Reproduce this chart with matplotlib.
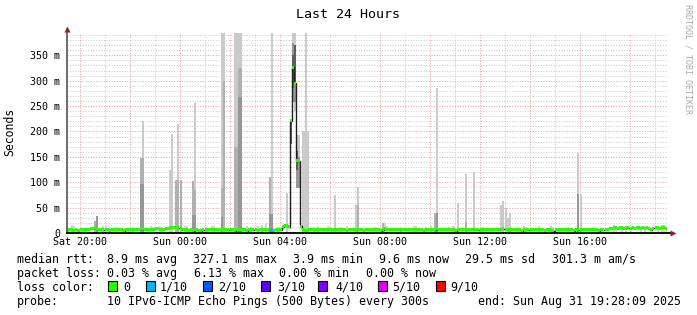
"""SmokePing style 'Last 24 Hours' latency graph (rrdtool look)."""
import datetime as dt
import matplotlib
matplotlib.use("Agg")
import matplotlib.pyplot as plt
from matplotlib.patches import Rectangle
from matplotlib.lines import Line2D

W, H = 697, 315
MONO = "DejaVu Sans Mono"

END = dt.datetime(2025, 8, 31, 19, 28, 9)
START = END - dt.timedelta(hours=24)
STEP_H = 5 / 60          # one sample every 300 s
YMAX = 394.0             # ms

# median rtt per 5-min sample (ms), one row per hour
median_ms = [
    6.5, 6.0, 6.0, 5.5, 6.0, 5.5, 6.0, 6.0, 6.5, 7.0, 7.0, 8.0,
    9.0, 10.0, 8.5, 7.0, 6.5, 6.0, 7.0, 6.5, 5.5, 6.0, 6.5, 7.5,
    7.0, 7.5, 6.5, 4.0, 6.5, 6.5, 6.0, 6.5, 7.0, 7.5, 7.5, 8.0,
    8.0, 7.0, 6.5, 6.5, 7.0, 7.5, 8.0, 8.0, 7.0, 7.0, 7.5, 8.0,
    9.0, 10.0, 11.0, 11.5, 11.0, 10.0, 9.0, 7.0, 6.0, 6.0, 5.5, 6.0,
    4.0, 6.5, 6.0, 5.5, 4.0, 6.0, 6.5, 7.0, 7.5, 7.0, 6.5, 6.0,
    6.0, 6.5, 7.0, 7.0, 6.5, 6.0, 6.5, 6.5, 4.5, 6.0, 6.5, 6.5,
    6.0, 6.5, 4.0, 6.0, 6.5, 6.0, 6.0, 5.5, 6.0, 6.5, 7.0, 7.0,
    6.5, 4.5, 4.5, 5.0, 6.0, 6.5, 6.5, 12.0, 14.0, 14.0, 12.0, 221.0,
    327.0, 295.0, 142.0, 142.0, 13.0, 6.0, 5.5, 6.0, 6.5, 7.0, 6.5, 6.0,
    6.5, 7.0, 6.5, 6.0, 6.5, 7.0, 6.5, 6.0, 6.0, 6.5, 6.0, 6.5,
    6.5, 6.0, 5.5, 6.0, 6.5, 6.0, 6.5, 7.0, 6.5, 6.0, 5.0, 6.5,
    6.5, 6.0, 6.5, 7.0, 6.5, 6.0, 4.0, 6.5, 8.0, 7.0, 6.5, 6.0,
    6.5, 6.0, 6.5, 6.0, 6.5, 7.0, 6.5, 6.0, 6.5, 6.0, 6.5, 6.5,
    6.0, 6.5, 6.0, 5.5, 6.0, 6.5, 6.0, 6.5, 6.0, 8.0, 6.5, 6.0,
    6.5, 6.0, 6.0, 7.0, 6.5, 6.0, 4.5, 6.5, 6.0, 6.5, 7.0, 6.5,
    6.0, 6.5, 7.0, 7.5, 6.5, 6.0, 6.0, 6.5, 6.0, 6.5, 6.5, 6.0,
    6.5, 7.0, 7.5, 7.0, 7.5, 8.0, 7.0, 6.5, 6.0, 6.5, 6.0, 6.5,
    6.5, 6.0, 4.5, 6.0, 6.5, 6.0, 6.5, 6.0, 6.5, 6.0, 6.5, 6.0,
    6.0, 5.5, 6.0, 6.5, 6.0, 4.5, 6.0, 6.5, 6.0, 6.5, 6.0, 6.5,
    6.0, 6.5, 6.0, 4.0, 6.0, 6.5, 7.0, 6.5, 6.0, 6.5, 6.0, 6.5,
    6.0, 6.5, 6.0, 4.5, 6.0, 6.5, 6.0, 7.0, 8.5, 9.5, 10.0, 10.0,
    9.5, 10.0, 10.0, 9.5, 10.0, 10.0, 9.5, 10.0, 9.0, 10.0, 10.0, 9.5,
    10.0, 9.5, 10.0, 9.5, 6.5, 9.5, 10.0, 10.0, 9.5, 10.0, 11.0, 9.6,
]

# samples with lost pings (tenths)
loss_idx = [97, 98]
loss_val = [1, 1]

# smoke bands: sample index, bottom, top (ms), shade level (0 = lightest)
smoke_idx = [13, 14, 35, 35, 36, 36, 36, 49, 50, 52, 53, 53, 54,
             60, 60, 61, 61, 61, 74, 74, 74, 75, 75, 80, 80, 81, 81,
             82, 82, 82, 83, 83, 83, 97, 97, 98, 98, 105, 107,
             108, 108, 108, 109, 109, 109, 110, 110, 110, 111, 111,
             113, 114, 115, 128, 138, 139, 139, 151, 176, 177, 177,
             187, 191, 191, 195, 208, 209, 210, 211, 212, 245, 245, 246]
smoke_bot = [0, 0, 0, 0, 0, 0, 0, 0, 0, 0, 0, 0, 0,
             0, 0, 0, 0, 0, 0, 0, 0, 0, 0, 0, 0, 0, 0,
             0, 0, 0, 0, 0, 0, 0, 0, 0, 0, 0, 176,
             259, 259, 286, 240, 259, 295, 89, 89, 125, 89, 89,
             0, 0, 0, 0, 0, 0, 0, 0, 0, 0, 0,
             0, 0, 0, 0, 0, 0, 0, 0, 0, 0, 0, 0]
smoke_top = [24, 34, 148, 97, 221, 148, 97, 125, 195, 105, 215, 105, 105,
             103, 36, 256, 84, 36, 400, 89, 32, 400, 300, 400, 170, 400, 170,
             400, 325, 268, 400, 325, 268, 110, 38, 400, 38, 79, 222,
             394, 375, 350, 394, 360, 370, 193, 161, 161, 193, 150,
             200, 400, 200, 75, 56, 91, 56, 20, 40, 286, 40,
             60, 117, 22, 121, 56, 63, 50, 30, 40, 158, 77, 77]
smoke_shade = [1, 2, 1, 2, 0, 1, 2, 0, 0, 1, 0, 1, 1,
               1, 2, 0, 1, 2, 0, 1, 2, 0, 1, 0, 1, 0, 1,
               0, 1, 2, 0, 1, 2, 1, 2, 0, 2, 0, 3,
               0, 2, 3, 0, 2, 3, 0, 2, 3, 0, 2,
               0, 0, 0, 0, 0, 0, 1, 1, 1, 0, 2,
               0, 0, 1, 0, 0, 0, 0, 0, 0, 0, 2, 0]

# faint smoke just above the median line
bump_idx = [2, 3, 8, 17, 18, 20, 23, 24, 31, 40, 41, 44, 45, 56, 57, 66, 69, 70,
            86, 88, 91, 93, 95, 101, 118, 120, 125, 126, 131, 134, 147, 148, 152,
            153, 160, 166, 167, 172, 174, 183, 185, 198, 199, 216, 219, 220, 226,
            232, 233, 240, 262, 263, 266, 268, 270, 275, 277, 283, 285, 286]
bump_top = [15, 14, 10, 13, 13, 11, 12, 12, 11, 13, 12, 13, 12, 14, 13, 11, 14, 14,
            13, 12, 13, 15, 20, 12, 12, 13, 14, 12, 12, 13, 12, 11, 20,
            14, 12, 14, 13, 12, 14, 12, 14, 12, 11, 12, 13, 12, 13,
            14, 12, 12, 15, 14, 13, 14, 12, 14, 13, 14, 16, 15]

loss_labels = ["0", "1/10", "2/10", "3/10", "4/10", "5/10", "9/10"]
loss_colors = ["#26ff00", "#00b8ff", "#0059ff", "#5e00ff", "#7e00ff", "#dd00ff", "#ff0000"]
SHADES = ["#cacaca", "#b0b0b0", "#979797", "#5e5e5e"]

stats_rtt = ["median rtt:", "8.9 ms avg", "327.1 ms max", "3.9 ms min",
             "9.6 ms now", "29.5 ms sd", "301.3 m am/s"]
stats_loss = ["packet loss:", "0.03 % avg", "6.13 % max", "0.00 % min", "0.00 % now"]


def fx(px):
    return px / W


def fy(py):
    return 1 - py / H


fig = plt.figure(figsize=(W / 100, H / 100), dpi=100)
ax = fig.add_axes([fx(67), fy(233), 600 / W, 200 / H])
ax.set_xlim(0, 24)
ax.set_ylim(0, YMAX)
for s in ax.spines.values():
    s.set_visible(False)

# grid: light dotted lines
GRID_MAJ, GRID_MIN = "#e2a2a2", "#cacaca"
DOT = (0, (1.0, 1.6))
for v in range(10, 391, 10):
    ax.axhline(v, color=GRID_MAJ if v % 50 == 0 else GRID_MIN, lw=0.72, ls=DOT, zorder=0)
first = (START.replace(minute=0, second=0) + dt.timedelta(hours=1) - START).total_seconds() / 3600
ticks, labels = [], []
for k in range(24):
    x = first + k
    hr = (START.hour + 1 + k) % 24
    ax.axvline(x, color=GRID_MAJ if hr % 2 == 0 else GRID_MIN, lw=0.72, ls=DOT, zorder=0)
    if hr % 4 == 0:
        day = (START + dt.timedelta(hours=x)).strftime("%a")
        ticks.append(x)
        labels.append(f"{day} {hr:02d}:00")

# smoke
ax.bar([i * STEP_H for i in bump_idx], bump_top, width=STEP_H, align="edge",
       color="#d2d2d2", linewidth=0, antialiased=False, zorder=1)
order = sorted(range(len(smoke_idx)), key=lambda k: smoke_shade[k])
for k in order:
    ax.bar(smoke_idx[k] * STEP_H, smoke_top[k] - smoke_bot[k], bottom=smoke_bot[k],
           width=STEP_H, align="edge", color=SHADES[smoke_shade[k]],
           linewidth=0, antialiased=False, zorder=2)

# median: thin dark line plus loss-coloured band
edges = [i * STEP_H for i in range(len(median_ms) + 1)]
ax.stairs(median_ms, edges, color="#202020", lw=1.0, zorder=3)
sw = 1.5 * YMAX / 200
cols = [loss_colors[0]] * len(median_ms)
for i, l in zip(loss_idx, loss_val):
    cols[i] = loss_colors[l]
ax.bar(edges[:-1], [2 * sw] * len(median_ms), bottom=[m - sw for m in median_ms],
       width=STEP_H, align="edge", color=cols, linewidth=0, antialiased=False, zorder=4)

# axes with arrows
ax.add_line(Line2D([0, 0], [0, 1.0 + 4 / 200], transform=ax.transAxes, color="#555555",
                   lw=1.2, clip_on=False, zorder=5))
ax.add_line(Line2D([0, 1.0 + 4 / 600], [0, 0], transform=ax.transAxes, color="black",
                   lw=1.3, clip_on=False, zorder=5))
ax.plot([0], [1.0 + 4 / 200], marker="^", ms=4.2, color="#991e1e", mec="none",
        transform=ax.transAxes, clip_on=False, zorder=6)
ax.plot([1.0 + 6 / 600], [0], marker=">", ms=4.2, color="#991e1e", mec="none",
        transform=ax.transAxes, clip_on=False, zorder=6)

ax.set_yticks(range(0, 351, 50))
ax.set_yticklabels(["0"] + [f"{v} m" for v in range(50, 351, 50)])
ax.set_xticks(ticks)
ax.set_xticklabels(labels)
ax.tick_params(axis="y", length=0, pad=5.0, labelsize=7.2)
ax.tick_params(axis="x", length=0, pad=2.6, labelsize=7.2)
for t in ax.get_xticklabels() + ax.get_yticklabels():
    t.set_fontfamily(MONO)

# titles
fig.text(fx(348), fy(18.3), "Last 24 Hours", ha="center", va="baseline",
         fontsize=9.6, fontfamily=MONO)
fig.text(fx(10), fy(132), "Seconds", rotation=90, ha="center", va="center",
         fontsize=8.3, fontfamily=MONO)
fig.text(fx(688), fy(4), "RRDTOOL / TOBI OETIKER", rotation=-90, ha="center", va="top",
         fontsize=6.0, fontfamily=MONO, color="#aaaaaa")

# legend block
FS = 8.35
for x, s in zip([17, 107, 193, 293, 379, 465, 552], stats_rtt):
    fig.text(fx(x), fy(262.7), s, fontsize=FS, fontfamily=MONO, va="baseline")
for x, s in zip([17, 107, 194, 279, 366], stats_loss):
    fig.text(fx(x), fy(276.7), s, fontsize=FS, fontfamily=MONO, va="baseline")
fig.text(fx(17), fy(290.7), "loss color:", fontsize=FS, fontfamily=MONO, va="baseline")
box_x = [108, 146, 203, 261, 318, 378, 436]
lab_x = [123, 160, 218, 277, 335, 392, 450]
for bx, lx, c, s in zip(box_x, lab_x, loss_colors, loss_labels):
    fig.patches.append(Rectangle((fx(bx), fy(291)), 9 / W, 10 / H, transform=fig.transFigure,
                                 facecolor=c, edgecolor="black", lw=0.8, figure=fig))
    fig.text(fx(lx), fy(290.7), s, fontsize=FS, fontfamily=MONO, va="baseline")
fig.text(fx(17), fy(305), "probe:", fontsize=FS, fontfamily=MONO, va="baseline")
fig.text(fx(107), fy(305), "10 IPv6-ICMP Echo Pings (500 Bytes) every 300s",
         fontsize=FS, fontfamily=MONO, va="baseline")
fig.text(fx(478), fy(305), "end: Sun Aug 31 19:28:09 2025",
         fontsize=FS, fontfamily=MONO, va="baseline")

fig.savefig("out.png", dpi=100)
